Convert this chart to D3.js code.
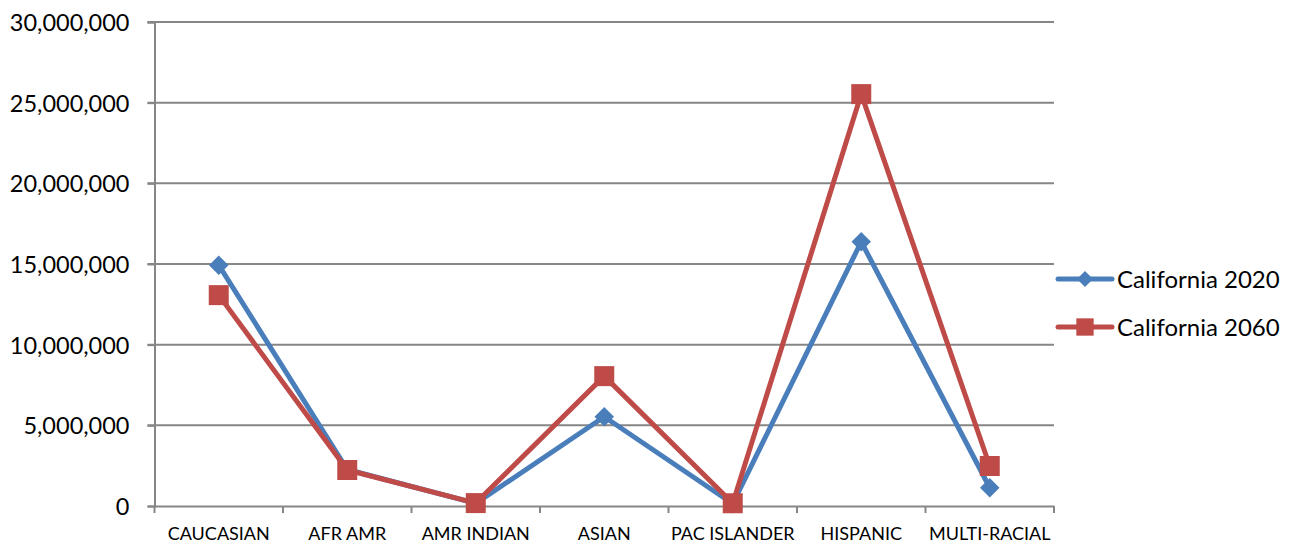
<!DOCTYPE html>
<html>
<head>
<meta charset="utf-8">
<script src="https://cdn.jsdelivr.net/npm/d3@7"></script>
<style>
  html, body { margin: 0; padding: 0; background: #fff; }
  svg text { font-family: Lato, "Open Sans", sans-serif; fill: #000; }
</style>
</head>
<body>
<svg id="chart" width="1290" height="546"></svg>
<script>
// Population by group, California
const categories = ["CAUCASIAN", "AFR AMR", "AMR INDIAN", "ASIAN", "PAC ISLANDER", "HISPANIC", "MULTI-RACIAL"];
const california2020 = [14930000, 2260000, 160000, 5530000, 140000, 16380000, 1130000];
const california2060 = [13070000, 2230000, 180000, 8050000, 170000, 25530000, 2480000];
const seriesNames = ["California 2020", "California 2060"];
const yTicks = [0, 5000000, 10000000, 15000000, 20000000, 25000000, 30000000];

const svg = d3.select("#chart");
const plotLeft = 154.5, plotRight = 1054, plotTop = 22, plotBottom = 506;

const x = d3.scaleBand().domain(categories).range([plotLeft, plotRight]).paddingInner(0).paddingOuter(0);
const y = d3.scaleLinear().domain([0, 30000000]).range([plotBottom, plotTop]);

const gridColor = "#868686";

// horizontal gridlines
svg.append("g").selectAll("line").data(yTicks.filter(d => d > 0)).join("line")
  .attr("x1", plotLeft - 7).attr("x2", plotRight)
  .attr("y1", d => y(d)).attr("y2", d => y(d))
  .attr("stroke", gridColor).attr("stroke-width", 2);

// y axis
const yAxis = svg.append("g").attr("transform", `translate(${plotLeft},0)`)
  .call(d3.axisLeft(y).tickValues(yTicks).tickSize(7).tickFormat(d3.format(",")));
yAxis.select(".domain").attr("stroke", gridColor).attr("stroke-width", 2);
yAxis.selectAll(".tick line").attr("stroke", gridColor).attr("stroke-width", 2);
yAxis.selectAll(".tick text").attr("x", -25).attr("font-size", 23.5).attr("dy", "0.36em");

// x axis
const xAxis = svg.append("g").attr("transform", `translate(0,${plotBottom})`)
  .call(d3.axisBottom(x).tickSize(0));
xAxis.select(".domain").attr("stroke", gridColor).attr("stroke-width", 2);
xAxis.selectAll(".tick text").attr("font-size", 18).attr("y", 34).attr("dy", "0");
// boundary ticks between categories
const bounds = categories.map(c => x(c)).concat([plotRight]);
xAxis.append("g").selectAll("line").data(bounds).join("line")
  .attr("x1", d => d).attr("x2", d => d).attr("y1", 0).attr("y2", 7)
  .attr("stroke", gridColor).attr("stroke-width", 2);

const cx = c => x(c) + x.bandwidth() / 2;
const blue = "#4a7ebb", red = "#be4b48";

const diamond = d3.symbol().type(d3.symbolSquare).size(190);
const square = d3.symbol().type(d3.symbolSquare).size(400);

const line = d3.line().x(d => cx(d.cat)).y(d => y(d.v));

function drawSeries(values, color, marker, rotate) {
  const pts = categories.map((c, i) => ({ cat: c, v: values[i] }));
  svg.append("path").datum(pts).attr("d", line)
    .attr("fill", "none").attr("stroke", color).attr("stroke-width", 5)
    .attr("stroke-linejoin", "round");
  svg.append("g").selectAll("path").data(pts).join("path")
    .attr("d", marker)
    .attr("transform", d => `translate(${cx(d.cat)},${y(d.v)}) rotate(${rotate})`)
    .attr("fill", color);
}

drawSeries(california2020, blue, diamond, 45);
drawSeries(california2060, red, square, 0);

// legend
const legend = svg.append("g");
const legendItems = [
  { name: seriesNames[0], color: blue, marker: d3.symbol().type(d3.symbolSquare).size(130), rot: 45, yy: 279 },
  { name: seriesNames[1], color: red, marker: d3.symbol().type(d3.symbolSquare).size(300), rot: 0, yy: 327 }
];
legendItems.forEach(it => {
  legend.append("line").attr("x1", 1058).attr("x2", 1112).attr("y1", it.yy).attr("y2", it.yy)
    .attr("stroke", it.color).attr("stroke-width", 5).attr("stroke-linecap", "round");
  legend.append("path").attr("d", it.marker())
    .attr("transform", `translate(1085,${it.yy}) rotate(${it.rot})`).attr("fill", it.color);
  legend.append("text").attr("x", 1117).attr("y", it.yy).attr("dy", "0.36em")
    .attr("font-size", 24).text(it.name);
});
</script>
</body>
</html>
